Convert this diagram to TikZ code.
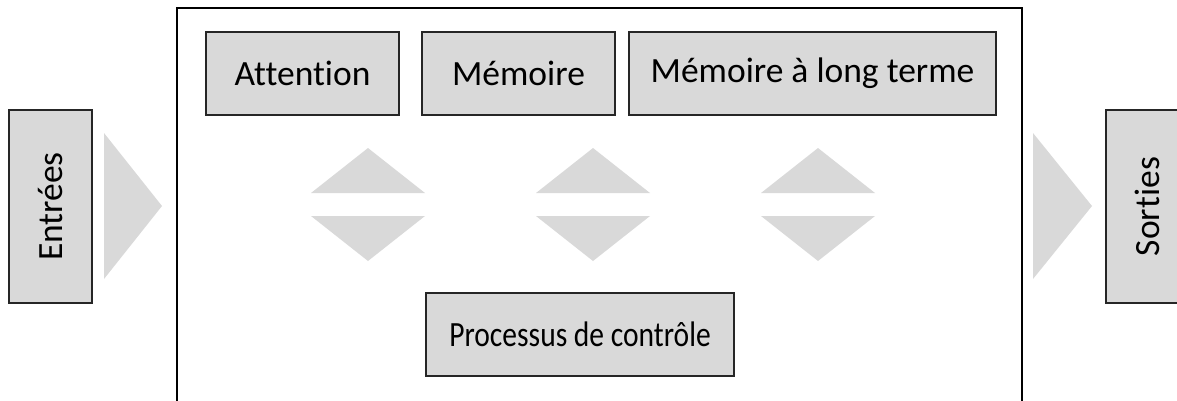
\documentclass[tikz,border=0pt]{standalone}
\usepackage{fontspec}
\setmainfont[Ligatures=NoCommon]{Carlito}
\definecolor{boxgray}{HTML}{D9D9D9}
\begin{document}
\begin{tikzpicture}[x=1pt,y=-1pt,
  labelfont/.style={font=\fontsize{35.5}{40}\selectfont},
  graybox/.style={draw=black!85, line width=1.4pt, fill=boxgray, inner sep=0pt, labelfont},
  arrowtri/.style={fill=boxgray, draw=none}]
\useasboundingbox (0,0) rectangle (1177,400);
\clip (0,0) rectangle (1177,400);

% outer frame of the process
\node[draw=black, line width=1.6pt, minimum width=845pt, minimum height=404pt, inner sep=0pt]
  (main) at (599.5,210) {};

% inputs and outputs
\node[graybox, minimum width=83pt, minimum height=193pt] (in) at (50.5,206.5) {};
\node[rotate=90, labelfont] (intext) at (in.center) {Entrées};
\node[graybox, minimum width=83pt, minimum height=193pt] (out) at (1147.5,206.5) {};
\node[rotate=90, labelfont] (outtext) at (out.center) {Sorties};

% components
\node[graybox, minimum width=193pt, minimum height=83pt] (att) at (302.5,73.5) {Attention};
\node[graybox, minimum width=193pt, minimum height=83pt] (mem) at (518.5,73.5) {Mémoire};
\node[graybox, minimum width=367pt, minimum height=83pt] (mlt) at (812.5,73.5) {Mémoire à long terme};
\node[graybox, minimum width=308pt, minimum height=83pt]
  (ctrl) at (580,334.5) {\scalebox{0.832}[1]{Processus de contrôle}};

% input / output arrows
\fill[arrowtri] (104,133) -- (162,206) -- (104,279) -- cycle;
\fill[arrowtri] (1033,133) -- (1092,206) -- (1033,279) -- cycle;

% two-way exchanges with the control process
\foreach \cx in {368,593,818}{
  \fill[arrowtri] (\cx-57,193) -- (\cx,148) -- (\cx+57,193) -- cycle;
  \fill[arrowtri] (\cx-57,216) -- (\cx,261) -- (\cx+57,216) -- cycle;
}
\end{tikzpicture}
\end{document}
